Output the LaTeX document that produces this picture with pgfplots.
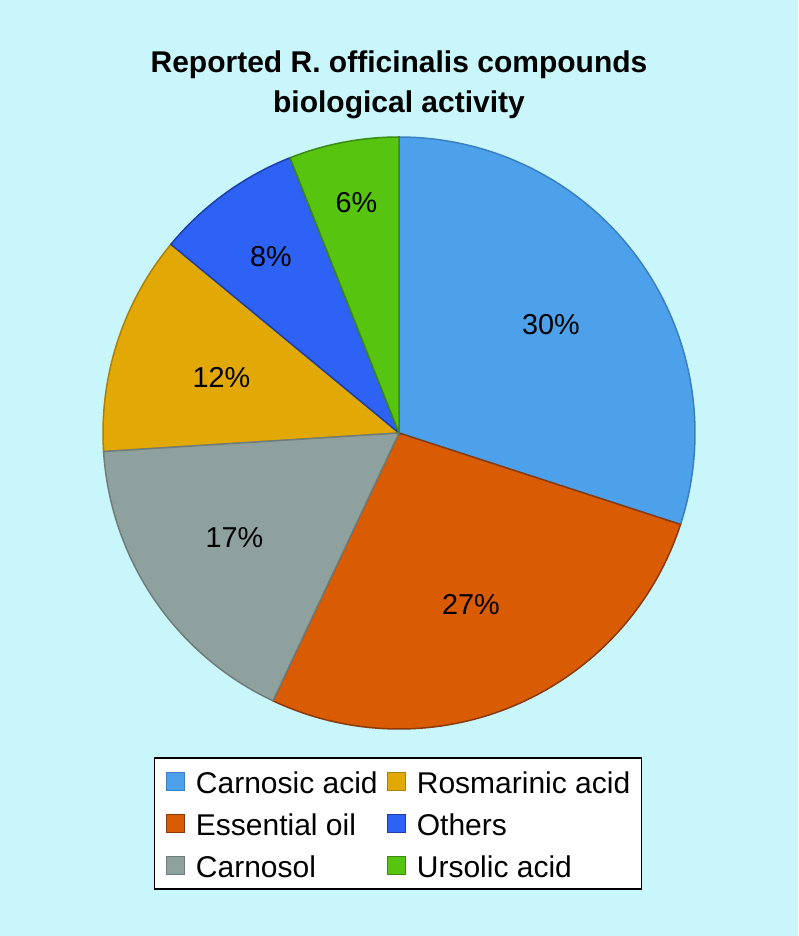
\documentclass[border=0pt]{standalone}
\usepackage{pgfplots}
\pgfplotsset{compat=1.18}
\usepackage{fontspec}
\setmainfont{Liberation Sans}
\definecolor{bg}{HTML}{C8F6FB}
\definecolor{c1}{HTML}{4DA0EA}\definecolor{e1}{HTML}{3A7FC0}
\definecolor{c2}{HTML}{D95B04}\definecolor{e2}{HTML}{8A3A0A}
\definecolor{c3}{HTML}{8FA19E}\definecolor{e3}{HTML}{6E7D7A}
\definecolor{c4}{HTML}{E2A805}\definecolor{e4}{HTML}{A8820E}
\definecolor{c5}{HTML}{2E62F4}\definecolor{e5}{HTML}{1E3FA8}
\definecolor{c6}{HTML}{57C50F}\definecolor{e6}{HTML}{3C8A12}
\begin{document}
\begin{tikzpicture}
\begin{axis}[
  x=0.5pt, y=0.5pt, xmin=0, xmax=798, ymin=0, ymax=936,
  hide axis, clip=false,
  legend columns=2,
  legend cell align=left,
  legend style={at={(axis cs:398,112.5)}, anchor=center, draw=black, line width=0.75pt, fill=white,
    font=\fontsize{15}{18}\selectfont,
    /tikz/every odd column/.append style={column sep=5.5pt},
    /tikz/every even column/.append style={column sep=4.5pt},
    row sep=3.4pt, inner xsep=5.5pt, inner ysep=3pt,
    nodes={inner sep=0pt, text height=14.6pt, text depth=3pt}},
  legend image code/.code={\draw[#1, line width=0.6pt] (0pt,-4.5pt) rectangle (9pt,4.5pt);},
  every axis plot/.append style={line width=0.75pt, samples=80, variable=\t},
]
\fill[bg] (axis cs:0,0) rectangle (axis cs:798,936);
% slices: 30, 27, 17, 12, 8, 6 (percent), clockwise from 12 o'clock
\addplot[fill=c1, draw=e1, domain=90-3.6*30:90] ({399+296*cos(\t)},{503+296*sin(\t)}) -- (axis cs:399,503) -- cycle;
\addlegendentry{Carnosic acid}
\addplot[fill=c4, draw=e4, domain=90-3.6*86:90-3.6*74] ({399+296*cos(\t)},{503+296*sin(\t)}) -- (axis cs:399,503) -- cycle;
\addlegendentry{Rosmarinic acid}
\addplot[fill=c2, draw=e2, domain=90-3.6*57:90-3.6*30] ({399+296*cos(\t)},{503+296*sin(\t)}) -- (axis cs:399,503) -- cycle;
\addlegendentry{Essential oil}
\addplot[fill=c5, draw=e5, domain=90-3.6*94:90-3.6*86] ({399+296*cos(\t)},{503+296*sin(\t)}) -- (axis cs:399,503) -- cycle;
\addlegendentry{Others}
\addplot[fill=c3, draw=e3, domain=90-3.6*74:90-3.6*57] ({399+296*cos(\t)},{503+296*sin(\t)}) -- (axis cs:399,503) -- cycle;
\addlegendentry{Carnosol}
\addplot[fill=c6, draw=e6, domain=90-3.6*100:90-3.6*94] ({399+296*cos(\t)},{503+296*sin(\t)}) -- (axis cs:399,503) -- cycle;
\addlegendentry{Ursolic acid}
% labels
\begin{scope}[every node/.style={font=\fontsize{14.4}{17}\selectfont, anchor=base, inner sep=0pt}]
\node at (axis cs:551,601) {30\%};
\node at (axis cs:471,321) {27\%};
\node at (axis cs:234.5,388) {17\%};
\node at (axis cs:221.5,548) {12\%};
\node at (axis cs:271,669) {8\%};
\node at (axis cs:356.5,723) {6\%};
\end{scope}
\node[font=\bfseries\fontsize{15}{18}\selectfont, anchor=base, inner sep=0pt] at (axis cs:399,863) {Reported R. officinalis compounds};
\node[font=\bfseries\fontsize{15}{18}\selectfont, anchor=base, inner sep=0pt] at (axis cs:399,823) {biological activity};
\end{axis}
\end{tikzpicture}
\end{document}
